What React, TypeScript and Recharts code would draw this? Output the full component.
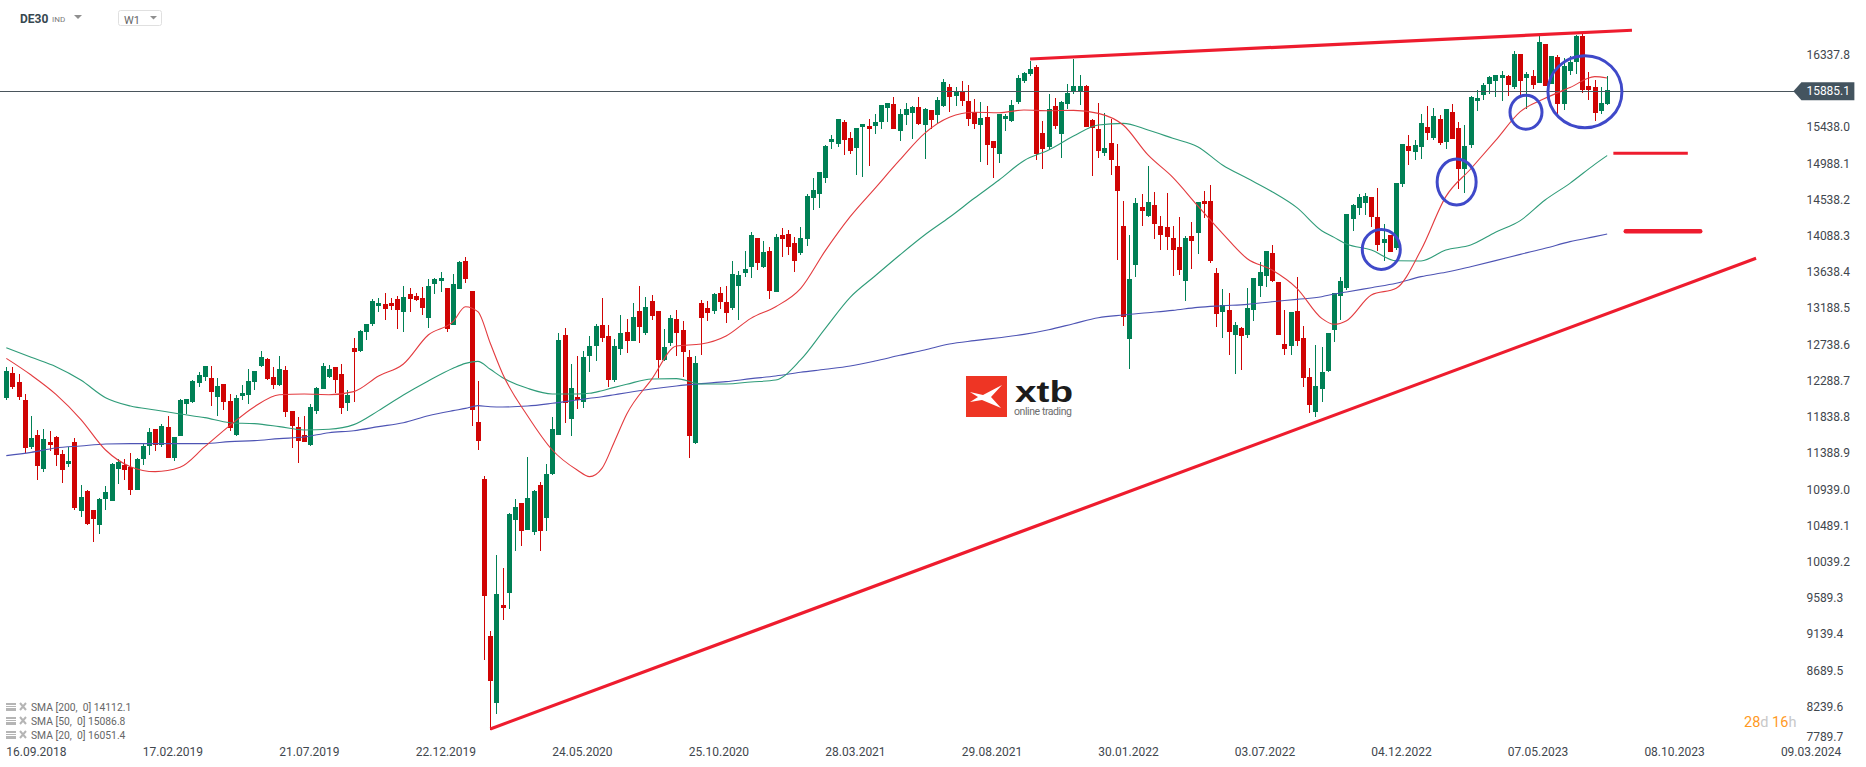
import React from "react"
import { ComposedChart, Bar, Line, XAxis, YAxis, ReferenceLine, ReferenceDot } from "recharts"

const opens = [
  12076, 12386, 12275, 12051, 11467, 11616, 11194, 11529, 11592, 11380,
  11256, 11529, 10672, 10921, 10685, 10499, 10821, 10797, 11194, 11244,
  11219, 10933, 11318, 11480, 11691, 11492, 11716, 11331, 11604, 12001,
  12026, 12262, 12337, 12324, 12088, 12250, 12039, 11616, 12101, 12113,
  12275, 12473, 12560, 12337, 12237, 12424, 11914, 11716, 11616, 11492,
  11914, 12188, 12337, 12461, 12374, 12014, 12697, 12660, 12896, 12995,
  13218, 13243, 13256, 13305, 13144, 13367, 13343, 13318, 13069, 13492,
  13529, 13442, 12982, 13430, 13777, 13405, 11778, 11070, 9120, 8288,
  9505, 9654, 10561, 10772, 10436, 10412, 10995, 10585, 11132, 11616,
  12858, 11815, 12088, 12026, 12597, 12722, 12982, 12846, 12299, 12684,
  12896, 12784, 13156, 12883, 13281, 13156, 12548, 12759, 13057, 12920,
  12585, 11513, 13256, 13194, 13156, 13380, 13268, 13194, 13467, 13628,
  13703, 14063, 13703, 13902, 13393, 14101, 14113, 14001, 13877, 14050,
  14560, 14609, 14808, 15255, 15230, 15504, 15305, 15181, 15441, 15454,
  15454, 15504, 15677, 15727, 15392, 15590, 15615, 15690, 15466, 15653,
  15590, 15702, 15938, 15826, 15876, 15764, 15628, 15466, 15566, 15268,
  15106, 15541, 15516, 15752, 16013, 16100, 16187, 15367, 15193, 15702,
  15355, 15727, 15876, 15889, 15951, 15528, 15417, 15119, 15243, 14957,
  14212, 12808, 13727, 14448, 14336, 14473, 14212, 14200, 14063, 13951,
  13529, 14088, 14125, 14522, 14522, 13628, 13144, 13169, 12858, 12945,
  12858, 13169, 13467, 13591, 13877, 13516, 12746, 12721, 13156, 12821,
  12336, 11898, 12187, 12411, 12920, 13342, 13442, 14299, 14435, 14498,
  14572, 14324, 14001, 14100, 13939, 14734, 15206, 15132, 15194, 15442,
  15305, 15541, 15256, 15628, 15430, 14920, 15218, 15765, 15839, 15976,
  16013, 16051, 16075, 15939, 16349, 16051, 16075, 15988, 16473, 15976,
  16311, 15728, 16138, 16249, 16572, 15951, 15939, 15641, 15728,
]

const highs = [
  12461, 12461, 12374, 12126, 11852, 11678, 11691, 11666, 11604, 11430,
  11467, 11579, 10995, 10933, 10685, 10834, 10983, 11269, 11318, 11318,
  11393, 11331, 11517, 11703, 11691, 11753, 11852, 11592, 12063, 12063,
  12299, 12399, 12473, 12473, 12324, 12250, 12126, 12113, 12237, 12436,
  12411, 12660, 12573, 12461, 12597, 12473, 11914, 11840, 11852, 12001,
  12212, 12511, 12486, 12461, 12498, 12175, 12821, 12920, 12995, 13305,
  13318, 13380, 13318, 13343, 13467, 13442, 13380, 13454, 13554, 13566,
  13641, 13442, 13616, 13777, 13827, 13405, 12287, 11107, 9182, 10126,
  9964, 10647, 10821, 10772, 11343, 10933, 11033, 11256, 11840, 12883,
  12945, 12498, 12597, 12660, 12846, 12995, 13318, 12982, 12809, 13107,
  13057, 13256, 13467, 13330, 13355, 13156, 12933, 13107, 13169, 13032,
  12672, 12597, 13293, 13281, 13380, 13454, 13467, 13777, 13653, 13902,
  14138, 14063, 14026, 13952, 14113, 14188, 14163, 14075, 14199, 14609,
  14808, 14883, 15218, 15342, 15541, 15528, 15379, 15429, 15479, 15541,
  15603, 15715, 15740, 15814, 15665, 15740, 15702, 15814, 15677, 15653,
  15814, 16038, 15975, 15938, 16013, 15963, 15789, 15752, 15702, 15268,
  15603, 15603, 15777, 16087, 16125, 16261, 16212, 15516, 15851, 15802,
  15764, 15975, 16286, 16087, 15963, 15541, 15740, 15615, 15541, 15230,
  14522, 14100, 14560, 14609, 14957, 14634, 14336, 14622, 14212, 14324,
  14088, 14262, 14510, 14647, 14721, 13690, 13429, 13380, 13020, 12957,
  13442, 13566, 13765, 13901, 13976, 13516, 13169, 13144, 13578, 12970,
  12448, 12734, 12709, 12883, 13380, 13578, 14361, 14485, 14609, 14622,
  14572, 14684, 14237, 14100, 14746, 15231, 15343, 15281, 15604, 15703,
  15678, 15591, 15666, 15728, 15504, 15467, 15827, 15902, 15989, 16075,
  16088, 16138, 16088, 16386, 16349, 16125, 16150, 16572, 16473, 16324,
  16336, 16299, 16324, 16585, 16622, 16125, 16026, 15939, 16075,
]

const lows = [
  12051, 12188, 12051, 11393, 11442, 11057, 11157, 11418, 11231, 11020,
  11219, 10685, 10598, 10499, 10287, 10387, 10685, 10797, 11008, 11057,
  10871, 10933, 11244, 11368, 11418, 11467, 11331, 11293, 11604, 11877,
  12014, 12212, 12287, 11976, 11852, 11927, 11666, 11604, 12051, 12001,
  12175, 12461, 12299, 12188, 12225, 11840, 11455, 11269, 11529, 11480,
  11877, 12188, 12324, 12138, 11877, 11914, 12026, 12647, 12796, 12970,
  13144, 13045, 13169, 12933, 12896, 13144, 13281, 13107, 12945, 13367,
  13392, 12896, 12982, 13430, 13504, 11728, 11430, 8822, 7952, 8151,
  9319, 9455, 10176, 10238, 10436, 10374, 10176, 10424, 11120, 11616,
  11765, 11604, 11939, 11952, 12399, 12535, 12771, 12212, 12275, 12610,
  12635, 12784, 12759, 12858, 13045, 12324, 12535, 12722, 12597, 12337,
  11331, 11505, 12610, 13032, 13119, 13181, 13007, 13169, 13045, 13579,
  13567, 13666, 13691, 13306, 13393, 13827, 13852, 13641, 13852, 13963,
  14411, 14435, 14746, 15168, 15193, 15094, 15106, 14845, 14820, 14957,
  15355, 15417, 15504, 15417, 15268, 15466, 15292, 15466, 15044, 15417,
  15491, 15690, 15628, 15702, 15702, 15454, 15417, 15007, 14970, 14808,
  14994, 15392, 15504, 15727, 15988, 16075, 15032, 14920, 15156, 15417,
  15056, 15665, 15851, 15715, 15441, 14833, 15056, 15081, 14845, 13790,
  12970, 12436, 13578, 14212, 14324, 14050, 13914, 13914, 13591, 13603,
  13280, 13678, 13864, 14311, 13752, 12957, 12821, 12610, 12374, 12423,
  12821, 13032, 13330, 13454, 13516, 12858, 12610, 12610, 12721, 12212,
  11889, 11840, 12026, 12398, 12771, 13044, 13417, 14150, 14349, 14349,
  14199, 13901, 13777, 13889, 13914, 14697, 14970, 15032, 15045, 15281,
  15281, 15218, 15169, 15293, 14672, 14622, 15181, 15641, 15777, 15852,
  15815, 15765, 15827, 15914, 15815, 15666, 15914, 15988, 15951, 15976,
  15579, 15653, 16088, 16100, 15864, 15777, 15517, 15604, 15715,
]

const closes = [
  12411, 12212, 12088, 11455, 11579, 11231, 11567, 11492, 11368, 11182,
  11293, 10710, 10846, 10511, 10573, 10821, 10908, 11256, 11281, 11182,
  10933, 11318, 11480, 11654, 11492, 11728, 11331, 11592, 12051, 12063,
  12287, 12361, 12473, 12150, 12225, 12026, 11703, 12076, 12138, 12287,
  12411, 12585, 12312, 12237, 12436, 11902, 11728, 11542, 11529, 11964,
  12200, 12473, 12436, 12299, 11952, 12113, 12647, 12908, 12995, 13281,
  13256, 13181, 13218, 13169, 13330, 13305, 13293, 13194, 13467, 13554,
  13566, 12933, 13492, 13765, 13554, 11927, 11542, 9617, 8561, 9642,
  9468, 10635, 10722, 10424, 10834, 10921, 10424, 11132, 11691, 12796,
  12014, 12200, 12051, 12585, 12722, 12970, 12821, 12299, 12722, 12883,
  12784, 13082, 12958, 13206, 13094, 12548, 12709, 13069, 12883, 12647,
  11604, 12511, 13069, 13131, 13367, 13268, 13131, 13616, 13604, 13678,
  14101, 13753, 13890, 13405, 14076, 14051, 13952, 13777, 14063, 14584,
  14659, 14883, 15205, 15292, 15541, 15280, 15143, 15429, 15479, 15417,
  15504, 15715, 15740, 15417, 15603, 15665, 15690, 15479, 15665, 15528,
  15777, 16000, 15814, 15889, 15764, 15541, 15479, 15553, 15218, 15181,
  15603, 15578, 15715, 16050, 16112, 16162, 15106, 15168, 15665, 15454,
  15752, 15864, 15951, 15951, 15441, 15429, 15143, 15181, 15032, 14647,
  13082, 13554, 14498, 14398, 14510, 14237, 14100, 14075, 13914, 13665,
  14063, 14026, 14510, 14485, 13777, 13119, 13231, 12895, 12982, 12846,
  13193, 13566, 13641, 13901, 13529, 12858, 12684, 13144, 12784, 12324,
  11989, 12225, 12398, 12883, 13380, 13529, 14361, 14473, 14572, 14584,
  14324, 13976, 14050, 13889, 14746, 15231, 15144, 15218, 15492, 15368,
  15579, 15243, 15666, 15293, 14920, 15206, 15815, 15802, 15964, 16063,
  16088, 16088, 15964, 16349, 16013, 16100, 15964, 16498, 15951, 16324,
  15728, 16200, 16249, 16572, 15902, 15902, 15616, 15740, 15902,
]

// SMA values read about every 4th week, closer together where the lines turn sharply
const smaWeeks = [
  0, 4, 8, 12, 16, 20, 24, 28, 32, 36, 40, 44, 48, 52, 56, 60, 64, 68, 72, 74, 76, 78,
  80, 84, 88, 92, 94, 96, 98, 100, 104, 108, 112, 116, 120, 124, 128, 132, 136, 140, 144, 148, 152, 156,
  160, 164, 168, 172, 176, 180, 184, 188, 192, 196, 200, 204, 208, 212, 214, 216, 220, 224, 228, 232, 236,
  240, 244, 248, 252, 256, 258,
]
const sma20 = [
  12568, 12361, 12121, 11811, 11430, 11223, 11161, 11215, 11471, 11732, 11968, 12117, 12126, 12117, 12155, 12349, 12498, 12858, 13024, 13210, 13148, 12755,
  12374, 11856, 11430, 11182, 11099, 11202, 11533, 11877, 12308, 12722, 12746, 12846, 13065, 13210, 13434, 13906, 14328, 14680, 15032, 15363, 15562, 15624,
  15619, 15653, 15644, 15648, 15611, 15466, 15094, 14816, 14464, 14121, 13806, 13665, 13438, 13065, 12991, 13036, 13355, 13438, 13914, 14577, 14920,
  15272, 15632, 15798, 15931, 16067, 16051,
]
const sma50 = [
  12701, 12581, 12465, 12299, 12080, 11976, 11927, 11877, 11832, 11769, 11757, 11720, 11678, 11687, 11745, 11919, 12113, 12287, 12444, 12506, 12531, 12432,
  12328, 12196, 12126, 12126, 12134, 12167, 12208, 12246, 12312, 12316, 12250, 12250, 12275, 12299, 12548, 12941, 13326, 13591, 13852, 14100, 14320, 14556,
  14783, 15023, 15156, 15330, 15466, 15487, 15404, 15301, 15197, 14970, 14804, 14638, 14440, 14154, 14071, 13988, 13914, 13780, 13778, 13914, 13976,
  14134, 14279, 14535, 14742, 14978, 15087,
]
const sma200 = [
  11360, 11401, 11455, 11480, 11504, 11509, 11509, 11509, 11509, 11534, 11546, 11571, 11591, 11645, 11670, 11720, 11769, 11856, 11919, 11947, 11981, 11968,
  11964, 11976, 12010, 12051, 12072, 12092, 12117, 12142, 12188, 12225, 12254, 12279, 12316, 12349, 12395, 12432, 12473, 12535, 12606, 12672, 12746, 12788,
  12825, 12866, 12924, 12999, 13073, 13107, 13135, 13164, 13202, 13222, 13239, 13272, 13301, 13334, 13367, 13392, 13446, 13500, 13583, 13637, 13707,
  13782, 13860, 13935, 14018, 14080, 14112,
]

// drawn annotations: [week index, price]
const supportLine = [[78, 7965], [282, 13810]]
const resistanceLine = [[165, 16286], [262, 16643]]
const levelUpper = [[259, 15115], [271, 15115]]
const levelLower = [[261, 14146], [273, 14146]]
const circledWeeks = [
  { week: 222, price: 13921 },
  { week: 234, price: 14759 },
  { week: 245, price: 15624 },
  { week: 254, price: 15880 },
]

const lastPrice = 15885.1
const priceTicks = [
  16337.8, lastPrice, 15438.0, 14988.1, 14538.2, 14088.3, 13638.4, 13188.5, 12738.6, 12288.7, 11838.8,
  11388.9, 10939.0, 10489.1, 10039.2, 9589.3, 9139.4, 8689.5, 8239.6, 7789.7,
]
const dateTicks = [
  "16.09.2018", "17.02.2019", "21.07.2019", "22.12.2019", "24.05.2020", "25.10.2020", "28.03.2021",
  "29.08.2021", "30.01.2022", "03.07.2022", "04.12.2022", "07.05.2023", "08.10.2023", "09.03.2024",
]
const legendRows = ["SMA [200,  0] 14112.1", "SMA [50,  0] 15086.8", "SMA [20,  0] 16051.4"]

const WEEKS = 289
const UP = "#008055"
const DOWN = "#d00404"
const FONT = "Roboto, sans-serif"
const AXIS_TEXT = "#3f474e"

const weekLabel = (i: number) => {
  const d = new Date(Date.UTC(2018, 8, 16) + i * 7 * 86400000)
  const p = (n: number) => String(n).padStart(2, "0")
  return `${p(d.getUTCDate())}.${p(d.getUTCMonth() + 1)}.${d.getUTCFullYear()}`
}

const rows: any[] = []
for (let i = 0; i < WEEKS; i++) {
  const row: any = { date: weekLabel(i) }
  if (i < opens.length) {
    row.open = opens[i]
    row.high = highs[i]
    row.low = lows[i]
    row.close = closes[i]
    row.range = [lows[i], highs[i]]
  }
  rows.push(row)
}
// the platform labels this future bar one day earlier
rows[286].date = "09.03.2024"
smaWeeks.forEach((w, k) => {
  rows[w].sma20 = sma20[k]
  rows[w].sma50 = sma50[k]
  rows[w].sma200 = sma200[k]
})
const putLine = (key: string, pts: number[][]) => pts.forEach(([w, p]) => (rows[w][key] = p))
putLine("support", supportLine)
putLine("resistance", resistanceLine)
putLine("levelUpper", levelUpper)
putLine("levelLower", levelLower)

function Candle(props: any) {
  const { x, y, width, height, payload } = props
  if (!payload || payload.open === undefined) return null
  const { open, high, low, close } = payload
  const h = Math.abs(height)
  const perPrice = h / (high - low)
  const top = Math.min(y, y + height)
  const bodyTop = top + (high - Math.max(open, close)) * perPrice
  const bodyH = Math.max(Math.abs(open - close) * perPrice, 1)
  const left = Math.round(x)
  const fill = close >= open ? UP : DOWN
  return (
    <g shapeRendering="crispEdges">
      <rect x={left + 2} y={top} width={1} height={h} fill={fill} />
      <rect x={left} y={bodyTop} width={5} height={bodyH} fill={fill} />
    </g>
  )
}

function PriceTick({ x, y, payload }: any) {
  const value = payload.value
  if (value === lastPrice) {
    const tx = x
    return (
      <g>
        <polygon
          points={`${tx - 11},${y} ${tx - 3},${y - 9} ${tx + 50},${y - 9} ${tx + 50},${y + 9} ${tx - 3},${y + 9}`}
          fill="#44545f"
        />
        <text x={tx + 2} y={y + 4} fontFamily={FONT} fontSize={12} fill="#ffffff">
          {value.toFixed(1)}
        </text>
      </g>
    )
  }
  // the bottom label is pushed up so that it stays on the axis
  const shift = value < 8000 ? -6 : 0
  return (
    <text x={x + 2} y={y + 4 + shift} fontFamily={FONT} fontSize={12} fill={AXIS_TEXT}>
      {value.toFixed(1)}
    </text>
  )
}

function DateTick({ x, y, payload }: any) {
  return (
    <text x={x} y={y + 2} fontFamily={FONT} fontSize={12} fill={AXIS_TEXT}>
      {payload.value}
    </text>
  )
}

const circleShapes = [
  { rx: 19, ry: 20, dx: -2.5 },
  { rx: 19.5, ry: 23, dx: -1.6 },
  { rx: 16, ry: 17, dx: -0.5 },
  { rx: 37, ry: 36, dx: 2.6 },
]

function Header() {
  return (
    <svg width={300} height={34} style={{ position: "absolute", left: 0, top: 0 }}>
      <text x={20} y={23} fontFamily={FONT} fontSize={12} fontWeight={700} fill="#37474f">DE30</text>
      <text x={52} y={22} fontFamily={FONT} fontSize={8} fill="#7a7a7a">IND</text>
      <polygon points="74,15 82,15 78,19" fill="#8f8f8f" />
      <rect x={118.5} y={10.5} width={43} height={15} rx={2} fill="#fff" stroke="#e0e0e0" />
      <text x={124} y={24} fontFamily={FONT} fontSize={11} fill="#666">W1</text>
      <polygon points="150,16 157,16 153.5,19.5" fill="#8f8f8f" />
    </svg>
  )
}

function Logo() {
  return (
    <svg width={115} height={48} style={{ position: "absolute", left: 964, top: 374 }}>
      <rect x={2} y={2} width={41} height={41} fill="#ee3524" />
      <path d="M6 18 L19 21 L38 11 L27 23 L37 34 L18 26 L6 28 L14 23 Z" fill="#fff" />
      <text x={51} y={28} fontFamily="'Liberation Sans', sans-serif" fontWeight={700} fontSize={29} fill="#1c1c1c" textLength={58} lengthAdjust="spacingAndGlyphs">xtb</text>
      <text x={50} y={41} fontFamily={FONT} fontSize={10.5} fill="#6e6e6e" textLength={58}>online trading</text>
    </svg>
  )
}

function Legend() {
  return (
    <svg width={160} height={44} style={{ position: "absolute", left: 0, top: 700 }}>
      {legendRows.map((t, i) => {
        const y = 7 + i * 14
        return (
          <g key={t}>
            <rect x={6} y={y - 4} width={10} height={2} fill="#b5b5b5" />
            <rect x={6} y={y - 1} width={10} height={1} fill="#b5b5b5" />
            <rect x={6} y={y + 1} width={10} height={3} fill="#b5b5b5" />
            <path d={`M20 ${y - 4} L26 ${y + 3} M26 ${y - 4} L20 ${y + 3}`} stroke="#b5b5b5" strokeWidth={2} />
            <text x={31} y={y + 3.5} fontFamily={FONT} fontSize={10.3} fill="#666" style={{ whiteSpace: "pre" }}>{t}</text>
          </g>
        )
      })}
    </svg>
  )
}

function Countdown() {
  return (
    <div style={{ position: "absolute", left: 1744, top: 714, fontFamily: FONT, fontSize: 14.5, lineHeight: "18px", color: "#c8c8c8", whiteSpace: "pre" }}>
      <span style={{ color: "#ff9a1f" }}>28</span>d <span style={{ color: "#ff9a1f" }}>16</span>h
    </div>
  )
}

export default function App() {
  return (
    <div style={{ position: "fixed", left: 0, top: 0, width: 1866, height: 767, background: "#fff", overflow: "hidden" }}>
      <ComposedChart width={1866} height={767} data={rows} margin={{ top: 0, right: 0, bottom: 0, left: 0 }}>
        <XAxis
          dataKey="date"
          ticks={dateTicks}
          interval={0}
          height={21}
          axisLine={false}
          tickLine={false}
          padding={{ left: 3.2, right: 0 }}
          tick={<DateTick />}
        />
        <YAxis
          orientation="right"
          width={69.6}
          domain={[7753.7, 17019]}
          allowDataOverflow
          ticks={priceTicks}
          interval={0}
          axisLine={false}
          tickLine={false}
          tick={<PriceTick />}
        />
        <ReferenceLine y={lastPrice} stroke="#4a555c" strokeWidth={1} shapeRendering="crispEdges" />
        <Line type="monotone" dataKey="sma200" stroke="#4e54b4" strokeWidth={1.1} dot={false} connectNulls isAnimationActive={false} />
        <Line type="monotone" dataKey="sma50" stroke="#2f9c79" strokeWidth={1.1} dot={false} connectNulls isAnimationActive={false} />
        <Line type="monotone" dataKey="sma20" stroke="#e33b3f" strokeWidth={1.1} dot={false} connectNulls isAnimationActive={false} />
        <Bar dataKey="range" barSize={5} shape={<Candle />} isAnimationActive={false} />
        <Line dataKey="support" stroke="#ee1c2e" strokeWidth={3.2} dot={false} connectNulls isAnimationActive={false} />
        <Line dataKey="resistance" stroke="#ee1c2e" strokeWidth={3.2} dot={false} connectNulls isAnimationActive={false} />
        <Line dataKey="levelUpper" stroke="#ee1c2e" strokeWidth={3} dot={false} connectNulls isAnimationActive={false} />
        <Line dataKey="levelLower" stroke="#ee1c2e" strokeWidth={4.5} strokeLinecap="round" dot={false} connectNulls isAnimationActive={false} />
        {circledWeeks.map((c, i) => (
          <ReferenceDot
            key={c.week}
            x={rows[c.week].date}
            y={c.price}
            ifOverflow="visible"
            shape={(p: any) => (
              <ellipse cx={p.cx + circleShapes[i].dx} cy={p.cy} rx={circleShapes[i].rx} ry={circleShapes[i].ry} fill="none" stroke="#3f49c9" strokeWidth={3} />
            )}
          />
        ))}
      </ComposedChart>
      <Header />
      <Logo />
      <Legend />
      <Countdown />
    </div>
  )
}
